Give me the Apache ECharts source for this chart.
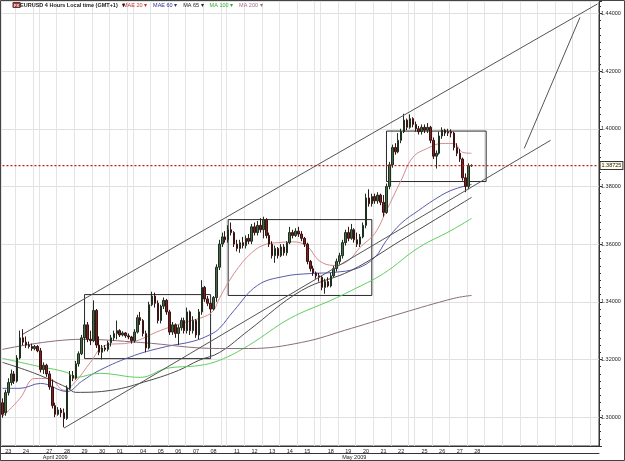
<!DOCTYPE html>
<html>
<head>
<meta charset="utf-8">
<title>EURUSD 4 Hours</title>
<script src="https://cdn.jsdelivr.net/npm/echarts@6/dist/echarts.min.js"></script>
<style>
  html, body { margin: 0; padding: 0; background: #fff; }
  #chart { width: 625px; height: 461px; }
</style>
</head>
<body>
<div id="chart"></div>
<script>
// days on the time axis and how many 4h bars each holds ('' = sunday / future cell)
const dayNames = ['23', '24', '', '27', '28', '29', '30', '01', '', '04', '05', '06', '07', '08', '', '11', '12', '13', '14', '15', '', '18', '19', '20', '21', '22', '', '25', '26', '27', '28', '', '', '', '', '', '', ''];
const dayBars = [5, 6, 2, 6, 6, 6, 6, 6, 2, 6, 6, 6, 6, 6, 2, 6, 6, 6, 6, 6, 2, 6, 6, 6, 6, 6, 2, 6, 6, 6, 6, 6, 6, 6, 6, 6, 6, 3];
const monthNames = ['April 2009', 'May 2009'];
const monthFirstDay = [0, 7];

// EURUSD 4h bars
const opens = [
  1.3050, 1.3015, 1.3085, 1.3120, 1.3150, 1.3125, 1.3205, 1.3275, 1.3260, 1.3250,
  1.3245, 1.3238, 1.3245, 1.3230, 1.3165, 1.3180, 1.3150, 1.3105, 1.3040, 1.3010,
  1.3025, 1.3015, 1.2995, 1.3100, 1.3145, 1.3135, 1.3185, 1.3220, 1.3275, 1.3320,
  1.3270, 1.3265, 1.3370, 1.3250, 1.3225, 1.3240, 1.3235, 1.3258, 1.3275, 1.3290,
  1.3300, 1.3285, 1.3292, 1.3282, 1.3278, 1.3265, 1.3295, 1.3345, 1.3335, 1.3290,
  1.3240, 1.3390, 1.3420, 1.3395, 1.3335, 1.3385, 1.3405, 1.3365, 1.3295, 1.3320,
  1.3290, 1.3310, 1.3335, 1.3300, 1.3365, 1.3300, 1.3335, 1.3285, 1.3365, 1.3450,
  1.3410, 1.3395, 1.3375, 1.3415, 1.3520, 1.3600, 1.3625, 1.3615, 1.3650, 1.3640,
  1.3600, 1.3585, 1.3605, 1.3595, 1.3620, 1.3610, 1.3660, 1.3640, 1.3665, 1.3650,
  1.3685, 1.3630, 1.3600, 1.3560, 1.3585, 1.3560, 1.3590, 1.3570, 1.3605, 1.3640,
  1.3630, 1.3645, 1.3635, 1.3620, 1.3600, 1.3540, 1.3515, 1.3500, 1.3490, 1.3485,
  1.3450, 1.3470, 1.3455, 1.3490, 1.3515, 1.3540, 1.3560, 1.3605, 1.3640, 1.3620,
  1.3650, 1.3615, 1.3600, 1.3625, 1.3665, 1.3760, 1.3740, 1.3765, 1.3750, 1.3770,
  1.3745, 1.3710, 1.3800, 1.3875, 1.3935, 1.3920, 1.3960, 1.3990, 1.4030, 1.4005,
  1.4035, 1.4015, 1.4000, 1.3990, 1.4005, 1.3995, 1.4005, 1.3960, 1.3905, 1.3915,
  1.3975, 1.3995, 1.3985, 1.3990, 1.3985, 1.3935, 1.3915, 1.3895, 1.3830, 1.3800,
  1.3872
];
const closes = [
  1.3010, 1.3085, 1.3120, 1.3150, 1.3125, 1.3205, 1.3275, 1.3260, 1.3250, 1.3245,
  1.3238, 1.3245, 1.3230, 1.3165, 1.3180, 1.3150, 1.3105, 1.3040, 1.3010, 1.3025,
  1.3015, 1.2995, 1.3100, 1.3145, 1.3135, 1.3185, 1.3220, 1.3275, 1.3320, 1.3270,
  1.3265, 1.3370, 1.3250, 1.3225, 1.3240, 1.3235, 1.3258, 1.3275, 1.3290, 1.3300,
  1.3285, 1.3292, 1.3282, 1.3278, 1.3265, 1.3295, 1.3345, 1.3335, 1.3290, 1.3240,
  1.3390, 1.3420, 1.3395, 1.3335, 1.3385, 1.3405, 1.3365, 1.3295, 1.3320, 1.3290,
  1.3310, 1.3335, 1.3300, 1.3365, 1.3300, 1.3335, 1.3285, 1.3365, 1.3450, 1.3410,
  1.3395, 1.3375, 1.3415, 1.3520, 1.3600, 1.3625, 1.3615, 1.3650, 1.3640, 1.3600,
  1.3585, 1.3605, 1.3595, 1.3620, 1.3610, 1.3660, 1.3640, 1.3665, 1.3650, 1.3685,
  1.3630, 1.3600, 1.3560, 1.3585, 1.3560, 1.3590, 1.3570, 1.3605, 1.3640, 1.3630,
  1.3645, 1.3635, 1.3620, 1.3600, 1.3540, 1.3515, 1.3500, 1.3490, 1.3485, 1.3450,
  1.3470, 1.3455, 1.3490, 1.3515, 1.3540, 1.3560, 1.3605, 1.3640, 1.3620, 1.3650,
  1.3615, 1.3600, 1.3625, 1.3665, 1.3760, 1.3740, 1.3765, 1.3750, 1.3770, 1.3745,
  1.3710, 1.3800, 1.3875, 1.3935, 1.3920, 1.3960, 1.3990, 1.4030, 1.4005, 1.4035,
  1.4015, 1.4000, 1.3990, 1.4005, 1.3995, 1.4005, 1.3960, 1.3905, 1.3915, 1.3975,
  1.3995, 1.3985, 1.3990, 1.3985, 1.3935, 1.3915, 1.3895, 1.3830, 1.3800, 1.3872,
  1.38725
];
const lows = [
  1.2998, 1.3005, 1.3075, 1.3110, 1.3115, 1.3120, 1.3200, 1.3250, 1.3240, 1.3238,
  1.3230, 1.3232, 1.3225, 1.3155, 1.3150, 1.3140, 1.3095, 1.3030, 1.3000, 1.3005,
  1.3000, 1.2965, 1.2990, 1.3095, 1.3125, 1.3130, 1.3175, 1.3215, 1.3255, 1.3260,
  1.3250, 1.3260, 1.3240, 1.3215, 1.3200, 1.3228, 1.3228, 1.3245, 1.3265, 1.3270,
  1.3278, 1.3280, 1.3275, 1.3270, 1.3255, 1.3258, 1.3290, 1.3320, 1.3280, 1.3225,
  1.3235, 1.3385, 1.3380, 1.3325, 1.3325, 1.3375, 1.3355, 1.3285, 1.3285, 1.3275,
  1.3250, 1.3300, 1.3290, 1.3290, 1.3285, 1.3290, 1.3275, 1.3270, 1.3355, 1.3400,
  1.3385, 1.3365, 1.3370, 1.3400, 1.3510, 1.3590, 1.3605, 1.3605, 1.3630, 1.3590,
  1.3575, 1.3570, 1.3585, 1.3585, 1.3600, 1.3600, 1.3630, 1.3630, 1.3640, 1.3620,
  1.3620, 1.3590, 1.3550, 1.3535, 1.3550, 1.3555, 1.3560, 1.3560, 1.3600, 1.3620,
  1.3625, 1.3625, 1.3610, 1.3590, 1.3530, 1.3505, 1.3490, 1.3480, 1.3470, 1.3440,
  1.3428, 1.3450, 1.3450, 1.3485, 1.3505, 1.3530, 1.3550, 1.3595, 1.3610, 1.3615,
  1.3605, 1.3590, 1.3590, 1.3620, 1.3655, 1.3730, 1.3730, 1.3740, 1.3740, 1.3735,
  1.3695, 1.3705, 1.3790, 1.3865, 1.3910, 1.3915, 1.3950, 1.3985, 1.3995, 1.4000,
  1.4005, 1.3990, 1.3980, 1.3980, 1.3985, 1.3985, 1.3950, 1.3895, 1.3862, 1.3910,
  1.3965, 1.3975, 1.3975, 1.3970, 1.3925, 1.3905, 1.3885, 1.3820, 1.3780, 1.3790,
  1.3868
];
const highs = [
  1.3065, 1.3095, 1.3135, 1.3165, 1.3160, 1.3215, 1.3300, 1.3305, 1.3280, 1.3262,
  1.3255, 1.3250, 1.3250, 1.3240, 1.3190, 1.3185, 1.3160, 1.3130, 1.3050, 1.3035,
  1.3032, 1.3030, 1.3110, 1.3160, 1.3160, 1.3195, 1.3228, 1.3285, 1.3340, 1.3330,
  1.3300, 1.3405, 1.3375, 1.3280, 1.3250, 1.3250, 1.3265, 1.3285, 1.3300, 1.3335,
  1.3305, 1.3298, 1.3295, 1.3290, 1.3282, 1.3305, 1.3355, 1.3365, 1.3340, 1.3300,
  1.3400, 1.3435, 1.3432, 1.3405, 1.3390, 1.3415, 1.3410, 1.3372, 1.3330, 1.3325,
  1.3320, 1.3345, 1.3345, 1.3380, 1.3370, 1.3350, 1.3340, 1.3375, 1.3475, 1.3455,
  1.3420, 1.3400, 1.3420, 1.3530, 1.3615, 1.3640, 1.3645, 1.3665, 1.3675, 1.3645,
  1.3615, 1.3615, 1.3625, 1.3630, 1.3635, 1.3670, 1.3675, 1.3680, 1.3690, 1.3695,
  1.3690, 1.3640, 1.3610, 1.3595, 1.3590, 1.3600, 1.3600, 1.3610, 1.3660, 1.3650,
  1.3655, 1.3660, 1.3645, 1.3625, 1.3605, 1.3545, 1.3525, 1.3505, 1.3500, 1.3490,
  1.3480, 1.3485, 1.3500, 1.3525, 1.3550, 1.3570, 1.3615, 1.3650, 1.3660, 1.3670,
  1.3655, 1.3640, 1.3635, 1.3675, 1.3775, 1.3790, 1.3775, 1.3775, 1.3780, 1.3775,
  1.3770, 1.3810, 1.3885, 1.3945, 1.3950, 1.3985, 1.4000, 1.4052, 1.4035, 1.4050,
  1.4040, 1.4025, 1.4010, 1.4015, 1.4015, 1.4020, 1.4010, 1.3970, 1.3925, 1.3990,
  1.4005, 1.4000, 1.4000, 1.3998, 1.3990, 1.3950, 1.3930, 1.3900, 1.3845, 1.3880,
  1.3877
];
const lastPrice = 1.38725;

// moving averages: [bar index, value]
const mae20 = [[0, 1.3002], [6, 1.3065], [11, 1.3134], [16, 1.3134], [21, 1.3093], [25, 1.3124], [30, 1.3190], [35, 1.3249], [44, 1.3259], [54, 1.3301], [62, 1.3328], [69, 1.3349], [72, 1.3370], [74, 1.3412], [79, 1.3498], [85, 1.3570], [90, 1.3600], [94, 1.3605], [99, 1.3608], [104, 1.3592], [108, 1.3543], [113, 1.3526], [118, 1.3543], [122, 1.3589], [127, 1.3637], [131, 1.3717], [136, 1.3821], [140, 1.3901], [145, 1.3932], [150, 1.3949], [154, 1.3949], [157, 1.3918], [160, 1.3915]];
const mae60 = [[0, 1.3100], [6, 1.3100], [13, 1.3117], [22, 1.3089], [27, 1.3124], [33, 1.3162], [45, 1.3214], [56, 1.3245], [65, 1.3263], [71, 1.3287], [74, 1.3308], [79, 1.3370], [87, 1.3457], [96, 1.3488], [105, 1.3498], [113, 1.3502], [121, 1.3516], [127, 1.3554], [131, 1.3613], [136, 1.3672], [142, 1.3717], [147, 1.3752], [153, 1.3786], [160, 1.3807]];
const ma65 = [[0, 1.3190], [11, 1.3152], [22, 1.3103], [25, 1.3086], [37, 1.3093], [50, 1.3127], [60, 1.3162], [67, 1.3197], [74, 1.3224], [84, 1.3301], [102, 1.3439], [119, 1.3509], [136, 1.3613], [160, 1.3762]];
const ma100 = [[0, 1.3204], [11, 1.3179], [22, 1.3155], [25, 1.3138], [33, 1.3152], [47, 1.3138], [56, 1.3169], [67, 1.3179], [74, 1.3197], [84, 1.3249], [98, 1.3342], [112, 1.3405], [119, 1.3439], [130, 1.3498], [142, 1.3588], [153, 1.3647], [160, 1.3689]];
const ma200 = [[0, 1.3235], [27, 1.3270], [47, 1.3259], [74, 1.3238], [84, 1.3238], [102, 1.3259], [119, 1.3308], [136, 1.3360], [154, 1.3412], [160, 1.3422]];

// drawn objects: trend lines [[bar, price], [bar, price]] and boxes [[bar, top], [bar, bottom]]
const trendLines = [
  [[7, 1.3288], [203, 1.4433]],
  [[21, 1.2962], [187, 1.3960]],
  [[178, 1.3932], [197, 1.4386]]
];
const boxes = [
  [[28, 1.3425], [71, 1.3203]],
  [[77, 1.3685], [126, 1.3422]],
  [[131, 1.3992], [165, 1.3817]]
];

// build the bar slots of the time axis
const slots = [];
const dayStart = {};
const dayLabelAt = {};
let slot = 0;
dayNames.forEach((name, d) => {
  dayStart[slot] = true;
  if (name) dayLabelAt[slot + Math.floor(dayBars[d] / 2)] = name;
  for (let j = 0; j < dayBars[d]; j++) {
    slots.push('b' + slot);
    slot++;
  }
});
const dayFirstSlot = [];
let acc = 0;
dayBars.forEach(n => { dayFirstSlot.push(acc); acc += n; });
const monthStart = {};
const monthLabelAt = {};
monthNames.forEach((name, m) => {
  const from = dayFirstSlot[monthFirstDay[m]];
  const to = m + 1 < monthNames.length ? dayFirstSlot[monthFirstDay[m + 1]] : slots.length;
  monthStart[from] = true;
  monthLabelAt[Math.floor((from + to) / 2)] = name;
});

const candles = opens.map((o, i) => [o, closes[i], lows[i], highs[i]]);
// last price line runs over the whole time axis
const lastPriceLine = [[0, lastPrice], [slots.length - 1, lastPrice]];

const myChart = echarts.init(document.getElementById('chart'));
const font = 'Liberation Sans, Arial, sans-serif';

const maLine = (name, data, color) => ({
  name,
  type: 'line',
  data,
  smooth: 0.4,
  showSymbol: false,
  silent: true,
  lineStyle: { color, width: 1 },
  itemStyle: { color },
  z: 3
});

const option = {
  animation: false,
  backgroundColor: '#fff',
  textStyle: { fontFamily: font },
  title: {
    left: 13,
    top: 2,
    padding: 0,
    text: '{ic|FX}{t|EURUSD 4 Hours Local time (GMT+1)   ▾}',
    textStyle: {
      fontSize: 5.5,
      rich: {
        ic: { fontSize: 4, color: '#fff', backgroundColor: '#a83232', borderColor: '#333', borderWidth: 0.5, padding: [1, 1, 0, 1], fontFamily: font },
        t: { fontSize: 5.5, color: '#222', fontFamily: font }
      }
    }
  },
  legend: {
    left: 117,
    top: 2,
    padding: 0,
    itemGap: 0,
    itemWidth: 0,
    itemHeight: 0,
    selectedMode: false,
    formatter: name => name + ' ▾',
    textStyle: { fontSize: 5.5, fontFamily: font },
    data: [
      { name: 'MAE 20', textStyle: { color: '#c83030' } },
      { name: 'MAE 60', textStyle: { color: '#303090' } },
      { name: 'MA 65', textStyle: { color: '#222' } },
      { name: 'MA 100', textStyle: { color: '#33aa33' } },
      { name: 'MA 200', textStyle: { color: '#a86a90' } }
    ]
  },
  grid: {
    left: 1,
    right: 26,
    top: 1,
    bottom: 15,
    outerBoundsMode: 'none',
    show: true,
    borderColor: '#333',
    borderWidth: 1
  },
  xAxis: [
    {
      type: 'category',
      data: slots,
      boundaryGap: true,
      axisLine: { lineStyle: { color: '#333' } },
      axisTick: { interval: i => !!dayStart[i], length: 7, lineStyle: { color: '#333' } },
      axisLabel: {
        interval: i => dayLabelAt[i] !== undefined,
        formatter: (v, i) => dayLabelAt[i] || '',
        fontSize: 5.5,
        margin: 2,
        color: '#222'
      },
      splitLine: { show: true, interval: i => !!dayStart[i], lineStyle: { color: '#e4e4e4' } }
    },
    {
      type: 'category',
      data: slots,
      boundaryGap: true,
      position: 'bottom',
      offset: 7,
      axisLine: { lineStyle: { color: '#333' } },
      axisTick: { interval: i => !!monthStart[i], length: 7, lineStyle: { color: '#333' } },
      axisLabel: {
        interval: i => monthLabelAt[i] !== undefined,
        formatter: (v, i) => monthLabelAt[i] || '',
        fontSize: 5.5,
        margin: 1,
        color: '#222'
      },
      splitLine: { show: false }
    },
    {
      type: 'category',
      data: slots,
      position: 'bottom',
      offset: 14,
      axisLine: { lineStyle: { color: '#333' } },
      axisTick: { show: false },
      axisLabel: { show: false }
    }
  ],
  yAxis: {
    type: 'value',
    position: 'right',
    min: 1.29,
    max: 1.4443,
    splitNumber: 8,
    axisLine: { show: true, lineStyle: { color: '#333' } },
    axisTick: { show: true, length: 3, lineStyle: { color: '#333' } },
    minorTick: { show: true, splitNumber: 8, length: 2, lineStyle: { color: '#333' } },
    axisLabel: {
      fontSize: 5.5,
      margin: 2,
      color: '#222',
      showMinLabel: false,
      showMaxLabel: false,
      formatter: v => v.toFixed(5)
    },
    splitLine: { show: true, lineStyle: { color: '#e0e0e0' } }
  },
  graphic: [
    {
      type: 'rect',
      shape: { x: 0.5, y: 0.5, width: 624, height: 460 },
      style: { fill: 'none', stroke: '#444', lineWidth: 1 },
      silent: true,
      z: 100
    }
  ],
  series: [
    {
      name: 'EURUSD',
      type: 'candlestick',
      data: candles,
      barWidth: 2,
      z: 4,
      itemStyle: {
        color: '#4b6b47',
        color0: '#7a2424',
        borderColor: '#1f2f1f',
        borderColor0: '#3b1212',
        borderWidth: 1
      },
      markLine: {
        silent: true,
        symbol: 'none',
        animation: false,
        precision: 5,
        label: { show: false },
        lineStyle: { color: '#555', width: 1, type: 'solid' },
        data: trendLines.map(([a, b]) => [{ coord: a }, { coord: b }])
      },
      markArea: {
        silent: true,
        itemStyle: { color: 'rgba(0,0,0,0)', borderColor: '#2a2a2a', borderWidth: 1 },
        data: boxes.map(([a, b]) => [{ coord: a }, { coord: b }])
      }
    },
    maLine('MAE 20', mae20, '#d68a8e'),
    maLine('MAE 60', mae60, '#5a5ab0'),
    maLine('MA 65', ma65, '#4a4a4a'),
    maLine('MA 100', ma100, '#5fcf5f'),
    maLine('MA 200', ma200, '#8a6c7c'),
    {
      name: 'Last',
      type: 'line',
      data: lastPriceLine,
      silent: true,
      showSymbol: false,
      z: 5,
      lineStyle: { color: '#b82020', type: [2, 2], width: 1.2 },
      itemStyle: { color: '#b82020' },
      endLabel: {
        show: true,
        distance: 3,
        formatter: () => lastPrice.toFixed(5),
        fontSize: 5.5,
        fontFamily: font,
        color: '#222',
        backgroundColor: '#fffbe8',
        borderColor: '#333',
        borderWidth: 1,
        padding: [1, 1, 0, 1]
      }
    }
  ]
};

option && myChart.setOption(option);
</script>
</body>
</html>
